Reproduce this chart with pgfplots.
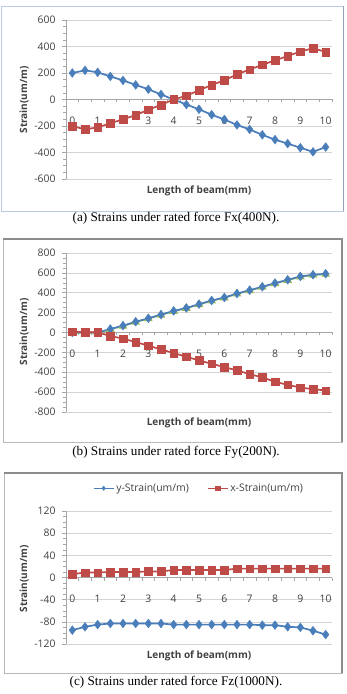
\documentclass[border=0pt]{standalone}
\usepackage{fontspec}
\usepackage{pgfplots}
\usepackage{pgfplotstable}
\pgfplotsset{compat=1.18}
\setmainfont{Liberation Serif}
\newfontfamily\chartfont{Open Sans}

\definecolor{seriesblue}{HTML}{4A7EBB}
\definecolor{seriesred}{HTML}{BE4B48}
\definecolor{seriesgreen}{HTML}{98B954}
\definecolor{gridgray}{HTML}{D4D4D4}
\definecolor{axisgray}{HTML}{A6A6A6}
\definecolor{frameblue}{HTML}{B9CBE2}
\definecolor{framegray}{HTML}{8C8C8C}

% strain along the beam, x in mm
\pgfplotstableread{
x   ystrain xstrain
0    200   -200
0.5  220   -226
1    205   -210
1.5  174   -180
2    144   -149
2.5  110   -118
3     77    -77
3.5   38    -41
4      0      0
4.5  -38     28
5    -74     69
5.5 -115    110
6   -151    144
6.5 -192    190
7   -226    226
7.5 -267    262
8   -303    295
8.5 -333    328
9   -364    362
9.5 -395    387
10  -359    359
}\dataFx

\pgfplotstableread{
x   ystrain xstrain
0      0      8
0.5    0      5
1      0      0
1.5   35    -35
2     69    -62
2.5  108    -96
3    143   -133
3.5  180   -170
4    217   -207
4.5  247   -244
5    285   -281
5.5  322   -315
6    352   -348
6.5  392   -382
7    426   -419
7.5  460   -452
8    497   -496
8.5  530   -527
9    564   -554
9.5  581   -570
10   591   -584
}\dataFy

% companion gauge under the y-strain trace (Fy case)
\pgfplotstableread{
x   val
0     -4
0.5   -4
1     -4
1.5   31
2     65
2.5  104
3    139
3.5  176
4    213
4.5  243
5    281
5.5  318
6    348
6.5  388
7    422
7.5  456
8    493
8.5  526
9    560
9.5  577
10   587
}\dataFyz

\pgfplotstableread{
x   ystrain xstrain
0    -95    6
0.5  -89    9
1    -85    9
1.5  -83   10
2    -83   10
2.5  -83   10
3    -83   11
3.5  -83   11
4    -85   13.5
4.5  -85   13.5
5    -85   13.5
5.5  -85   13.5
6    -85   13.5
6.5  -85   16
7    -85   16
7.5  -86   16
8    -86   16
8.5  -89   16
9    -90   16
9.5  -96   16
10  -103   16
}\dataFz

\pgfplotsset{
  panel/.style={
    scale only axis,
    width=266pt,
    anchor=south west,
    xmin=-0.25, xmax=10.25,
    axis x line*=middle,
    axis y line*=left,
    axis line style={axisgray, line width=0.6pt},
    xtick={0,1,...,10},
    minor xtick={-0.25,0.25,...,10.25},
    major x tick style={draw=none},
    minor x tick style={axisgray, line width=0.5pt},
    tick align=outside,
    major tick length=4pt,
    minor tick length=3pt,
    minor y tick num=3,
    y tick style={axisgray, line width=0.5pt},
    ymajorgrids,
    major grid style={gridgray, line width=0.6pt},
    tick label style={font=\chartfont\fontsize{10.4}{12}\selectfont, text=black!75},
    /pgf/number format/assume math mode=true,
    xticklabel style={yshift=-10pt},
    yticklabel style={xshift=-3pt},
    clip=false,
  },
  yser/.style={seriesblue, line width=1.7pt, mark=diamond*, mark size=4.4pt,
    mark options={fill=seriesblue, draw=seriesblue, line width=0.4pt}},
  xser/.style={seriesred, line width=1.7pt, mark=square*, mark size=3.8pt,
    mark options={fill=seriesred, draw=seriesred, line width=0.4pt}},
}

\begin{document}
\begin{tikzpicture}
\useasboundingbox (0,0) rectangle (346pt,694pt);

% ---- panel frames ----
\draw[frameblue, line width=0.8pt] (1pt,483pt) rectangle (343pt,688pt);
\draw[frameblue!80!black, line width=1pt] (343pt,483pt) -- (343pt,688pt);
\draw[framegray!60, line width=0.8pt] (3pt,252pt) rectangle (342pt,455pt);
\draw[framegray, line width=1.6pt] (3pt,455pt) -- (342pt,455pt) -- (342pt,252pt);
\draw[framegray!60, line width=0.8pt] (4pt,21pt) rectangle (342pt,221pt);
\draw[framegray, line width=1.6pt] (4pt,221pt) -- (342pt,221pt) -- (342pt,21pt);

% ---- (a) Fx ----
\begin{axis}[panel, at={(66pt,515pt)}, height=159pt,
  ymin=-600, ymax=600, ytick={-600,-400,...,600}]
  \addplot[yser] table[x=x, y=ystrain] {\dataFx};
  \addplot[xser] table[x=x, y=xstrain] {\dataFx};
\end{axis}

% ---- (b) Fy ----
\begin{axis}[panel, at={(66pt,282pt)}, height=159pt,
  ymin=-800, ymax=800, ytick={-800,-600,...,800}]
  \addplot[seriesgreen, line width=1.5pt, mark=triangle*, mark size=3.6pt,
    mark options={fill=seriesgreen, draw=seriesgreen}] table[x=x, y=val] {\dataFyz};
  \addplot[yser] table[x=x, y=ystrain] {\dataFy};
  \addplot[xser] table[x=x, y=xstrain] {\dataFy};
\end{axis}

% ---- (c) Fz ----
\begin{axis}[panel, at={(66pt,50pt)}, height=133pt,
  ymin=-120, ymax=120, ytick={-120,-80,...,120},
  legend style={at={(0.5,1)}, anchor=south, yshift=14pt, draw=none,
    fill=none, legend columns=2,
    font=\chartfont\fontsize{10.4}{12}\selectfont, text=black!75,
    /tikz/every even column/.append style={column sep=16pt}},
  legend cell align=left,
  legend image code/.code={
    \draw[#1, mark=none, line width=1.4pt] (0pt,0pt) -- (20pt,0pt);
    \draw[#1, only marks, mark size=2.2pt] plot coordinates {(10pt,0pt)};
  }]
  \addplot[yser] table[x=x, y=ystrain] {\dataFz};
  \addlegendentry{y-Strain(um/m)}
  \addplot[xser] table[x=x, y=xstrain] {\dataFz};
  \addlegendentry{x-Strain(um/m)}
\end{axis}

% ---- axis titles ----
\foreach \yc in {594,362,115}
  \node[rotate=90, font=\chartfont\bfseries\fontsize{10}{12}\selectfont, text=black!75]
    at (24pt,\yc pt) {Strain(um/m)};
\foreach \yc in {503,271,38}
  \node[font=\chartfont\bfseries\fontsize{10}{12}\selectfont, text=black!75]
    at (199pt,\yc pt) {Length of beam(mm)};

% ---- captions ----
\node[font=\fontsize{13.2}{15}\selectfont] at (176pt,476pt) {(a) Strains under rated force Fx(400N).};
\node[font=\fontsize{13.2}{15}\selectfont] at (176pt,242pt) {(b) Strains under rated force Fy(200N).};
\node[font=\fontsize{13.2}{15}\selectfont] at (176pt,12pt) {(c) Strains under rated force Fz(1000N).};
\end{tikzpicture}
\end{document}
